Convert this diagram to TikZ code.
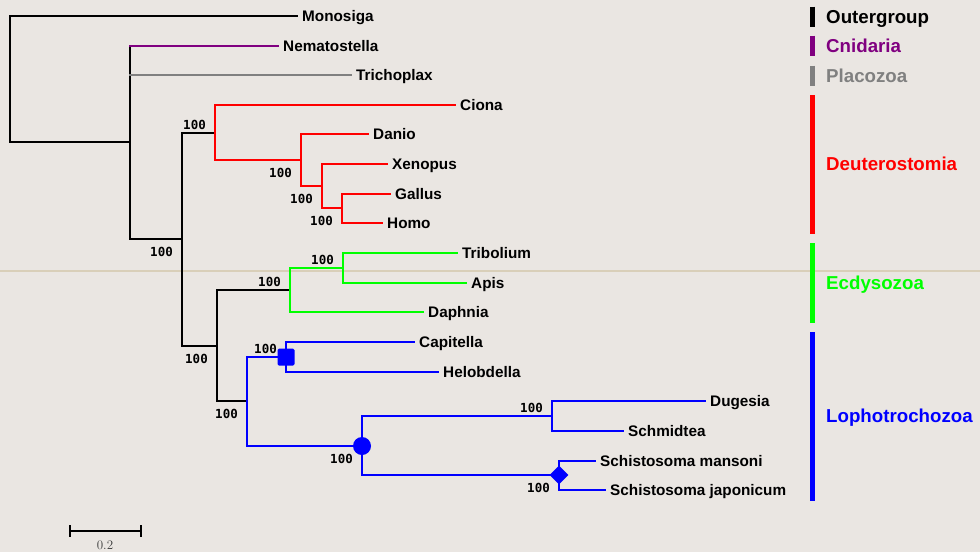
\documentclass[tikz,border=0pt]{standalone}
\usepackage{fontspec}
\newfontfamily\libb{Liberation Sans Bold}
\newfontfamily\monob{DejaVu Sans Mono Bold}
\usetikzlibrary{shapes.geometric}
\definecolor{bgc}{RGB}{234,230,226}
\definecolor{tanline}{RGB}{217,207,185}
\definecolor{cnid}{RGB}{128,0,128}
\definecolor{plac}{RGB}{128,128,128}
\definecolor{deutc}{RGB}{255,0,0}
\definecolor{ecdc}{RGB}{0,255,0}
\definecolor{lophc}{RGB}{0,0,255}
\definecolor{scalec}{RGB}{60,60,60}
\begin{document}
\begin{tikzpicture}[x=1pt,y=-1pt,
  br/.style={line width=2pt,line cap=rect},
  tiplab/.style={inner sep=0pt,anchor=base west,font=\libb\fontsize{15.3}{18}\selectfont},
  grplab/.style={inner sep=0pt,anchor=base west,font=\libb\fontsize{18.7}{22}\selectfont},
  bsab/.style={inner sep=0pt,anchor=base east,font=\monob\fontsize{12.5}{14}\selectfont},
  grpbar/.style={line width=5.5pt},
  marker/.style={fill=lophc,draw=none,inner sep=0pt}]
\fill[bgc] (0,0) rectangle (980,552);
\useasboundingbox (0,0) rectangle (980,552);
\draw[tanline,line width=2pt] (0,271) -- (980,271);
% tips (line ends)
\coordinate (mono) at (297,16);
\coordinate (nema) at (278,46);
\coordinate (trich) at (351,75);
\coordinate (ciona) at (455,105);
\coordinate (danio) at (368,134);
\coordinate (xeno) at (387,164);
\coordinate (gallus) at (390,194);
\coordinate (homo) at (382,223);
\coordinate (trib) at (457,253);
\coordinate (apis) at (466,283);
\coordinate (daph) at (423,312);
\coordinate (capi) at (414,342);
\coordinate (helo) at (438,372);
\coordinate (dug) at (705,401);
\coordinate (schm) at (623,431);
\coordinate (mans) at (595,461);
\coordinate (japo) at (605,490);
% internal nodes
\coordinate (root) at (10,79);
\coordinate (meta) at (130,142);
\coordinate (bilat) at (182,239);
\coordinate (deut) at (215,133);
\coordinate (na) at (301,160);
\coordinate (nb) at (322,186);
\coordinate (nc) at (342,208);
\coordinate (prot) at (217,346);
\coordinate (ecd) at (290,290);
\coordinate (nd) at (343,268);
\coordinate (loph) at (247,401);
\coordinate (anne) at (286,357);
\coordinate (platy) at (362,446);
\coordinate (ne) at (552,416);
\coordinate (schi) at (559,475);
% black part
\draw[br,black] (root|-mono) -- (root|-meta);
\draw[br,black] (root|-mono) -- (mono);
\draw[br,black] (root|-meta) -- (meta);
\draw[br,black] (meta|-nema) -- (meta|-bilat);
\draw[br,cnid] (meta|-nema) -- (nema);
\draw[br,plac] (meta|-trich) -- (trich);
\draw[br,black] (meta|-bilat) -- (bilat);
\draw[br,black] (bilat|-deut) -- (bilat|-prot);
\draw[br,black] (bilat|-deut) -- (deut);
\draw[br,black] (bilat|-prot) -- (prot);
\draw[br,black] (prot|-ecd) -- (prot|-loph);
\draw[br,black] (prot|-ecd) -- (ecd);
\draw[br,black] (prot|-loph) -- (loph);
% deuterostomia
\draw[br,deutc] (deut|-ciona) -- (deut|-na);
\draw[br,deutc] (deut|-ciona) -- (ciona);
\draw[br,deutc] (deut|-na) -- (na);
\draw[br,deutc] (na|-danio) -- (na|-nb);
\draw[br,deutc] (na|-danio) -- (danio);
\draw[br,deutc] (na|-nb) -- (nb);
\draw[br,deutc] (nb|-xeno) -- (nb|-nc);
\draw[br,deutc] (nb|-xeno) -- (xeno);
\draw[br,deutc] (nb|-nc) -- (nc);
\draw[br,deutc] (nc|-gallus) -- (nc|-homo);
\draw[br,deutc] (nc|-gallus) -- (gallus);
\draw[br,deutc] (nc|-homo) -- (homo);
% ecdysozoa
\draw[br,ecdc] (ecd|-nd) -- (ecd|-daph);
\draw[br,ecdc] (ecd|-nd) -- (nd);
\draw[br,ecdc] (ecd|-daph) -- (daph);
\draw[br,ecdc] (nd|-trib) -- (nd|-apis);
\draw[br,ecdc] (nd|-trib) -- (trib);
\draw[br,ecdc] (nd|-apis) -- (apis);
% lophotrochozoa
\draw[br,lophc] (loph|-anne) -- (loph|-platy);
\draw[br,lophc] (loph|-anne) -- (anne);
\draw[br,lophc] (loph|-platy) -- (platy);
\draw[br,lophc] (anne|-capi) -- (anne|-helo);
\draw[br,lophc] (anne|-capi) -- (capi);
\draw[br,lophc] (anne|-helo) -- (helo);
\draw[br,lophc] (platy|-ne) -- (platy|-schi);
\draw[br,lophc] (platy|-ne) -- (ne);
\draw[br,lophc] (platy|-schi) -- (schi);
\draw[br,lophc] (ne|-dug) -- (ne|-schm);
\draw[br,lophc] (ne|-dug) -- (dug);
\draw[br,lophc] (ne|-schm) -- (schm);
\draw[br,lophc] (schi|-mans) -- (schi|-japo);
\draw[br,lophc] (schi|-mans) -- (mans);
\draw[br,lophc] (schi|-japo) -- (japo);
% markers
\node[marker,rectangle,minimum size=17pt,rounded corners=1.5pt] (mkanne) at (anne) {};
\node[marker,circle,minimum size=18pt] (mkplaty) at (platy) {};
\node[marker,diamond,minimum width=19pt,minimum height=19pt] (mkschi) at (schi) {};
% tip labels
\node[tiplab] (lmono) at (302,21.5) {Monosiga};
\node[tiplab] (lnema) at (283,51.5) {Nematostella};
\node[tiplab] (ltrich) at (356,80.5) {Trichoplax};
\node[tiplab] (lciona) at (460,110.5) {Ciona};
\node[tiplab] (ldanio) at (373,139.5) {Danio};
\node[tiplab] (lxeno) at (392,169.5) {Xenopus};
\node[tiplab] (lgallus) at (395,199.5) {Gallus};
\node[tiplab] (lhomo) at (387,228.5) {Homo};
\node[tiplab] (ltrib) at (462,258.5) {Tribolium};
\node[tiplab] (lapis) at (471,288.5) {Apis};
\node[tiplab] (ldaph) at (428,317.5) {Daphnia};
\node[tiplab] (lcapi) at (419,347.5) {Capitella};
\node[tiplab] (lhelo) at (443,377.5) {Helobdella};
\node[tiplab] (ldug) at (710,406.5) {Dugesia};
\node[tiplab] (lschm) at (628,436.5) {Schmidtea};
\node[tiplab] (lmans) at (600,466.5) {Schistosoma mansoni};
\node[tiplab] (ljapo) at (610,495.5) {Schistosoma japonicum};
% bootstrap labels
\node[bsab] (bdeut) at (206,129) {100};
\node[bsab] (becd) at (281,286) {100};
\node[bsab] (bnd) at (334,264) {100};
\node[bsab] (banne) at (277,353) {100};
\node[bsab] (bne) at (543,412) {100};
\node[bsab] (bbilat) at (173,256) {100};
\node[bsab] (bna) at (292,177) {100};
\node[bsab] (bnb) at (313,203) {100};
\node[bsab] (bnc) at (333,225) {100};
\node[bsab] (bprot) at (208,363) {100};
\node[bsab] (bloph) at (238,418) {100};
\node[bsab] (bplaty) at (353,463) {100};
\node[bsab] (bschi) at (550,492) {100};
% group bars and labels
\draw[grpbar,black] (812.5,6.7) -- (812.5,26.7);
\draw[grpbar,cnid] (812.5,35.5) -- (812.5,55.5);
\draw[grpbar,plac] (812.5,65.5) -- (812.5,86);
\draw[grpbar,deutc] (812.5,95) -- (812.5,234);
\draw[grpbar,ecdc] (812.5,243) -- (812.5,323);
\draw[grpbar,lophc] (812.5,332) -- (812.5,501);
\node[grplab,black] (gout) at (826,23.4) {Outergroup};
\node[grplab,cnid] (gcnid) at (826,52.3) {Cnidaria};
\node[grplab,plac] (gplac) at (826,82.7) {Placozoa};
\node[grplab,deutc] (gdeut) at (826,170.7) {Deuterostomia};
\node[grplab,ecdc] (gecd) at (826,289.3) {Ecdysozoa};
\node[grplab,lophc] (gloph) at (826,422.6) {Lophotrochozoa};
% scale bar
\coordinate (sa) at (70,531);
\coordinate (sb) at (141,531);
\draw[line width=2pt] (sa) -- (sb);
\draw[line width=2pt] ([yshift=6pt]sa) -- ([yshift=-6pt]sa);
\draw[line width=2pt] ([yshift=6pt]sb) -- ([yshift=-6pt]sb);
\node[inner sep=0pt,anchor=base,text=scalec,font=\fontsize{13}{15}\selectfont] (slab) at (105,549) {0.2};
\end{tikzpicture}
\end{document}
